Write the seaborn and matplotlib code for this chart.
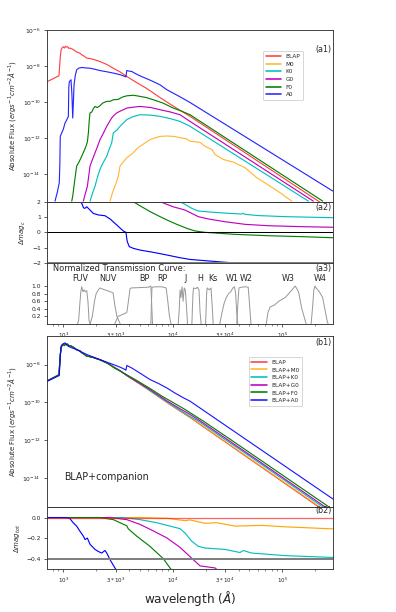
import numpy as np
import matplotlib
matplotlib.use("Agg")
import matplotlib.pyplot as plt
import seaborn as sns
from matplotlib.ticker import FixedLocator, NullFormatter, LogLocator

# ---------------- data (log10 wavelength [A], log10 flux) ----------------
blap_lw = [2.854, 2.96, 2.972, 2.98, 2.99, 3.0, 3.01, 3.02, 3.03, 3.04, 3.05, 3.06, 3.08, 3.10, 3.122,
           3.15, 3.17, 3.19, 3.214, 3.24, 3.27, 3.30, 3.335, 3.40, 3.45, 3.52, 3.58, 3.66, 3.75, 3.82,
           3.884, 3.94, 4.0, 4.08, 4.158, 5.331, 5.47]
blap_lf = [-8.86, -8.54, -7.5, -7.1, -6.98, -6.93, -7.0, -6.90, -6.95, -6.93, -7.02, -7.0, -7.05, -7.12, -7.22,
           -7.28, -7.38, -7.45, -7.56, -7.58, -7.62, -7.68, -7.75, -7.92, -8.10, -8.33, -8.58, -8.88, -9.2, -9.48,
           -9.75, -9.97, -10.2, -10.5, -10.79, -15.49, -16.05]

a0_lw = [2.924, 2.945, 2.963, 2.968, 2.972, 2.985, 3.0, 3.016, 3.03, 3.046, 3.05, 3.055, 3.07, 3.078, 3.086,
         3.092, 3.098, 3.11, 3.122, 3.14, 3.168, 3.2, 3.244, 3.29, 3.335, 3.40, 3.457, 3.52, 3.564, 3.572,
         3.58, 3.6, 3.625, 3.66, 3.70, 3.80, 3.884, 3.945, 4.05, 4.158, 5.4625]
a0_lf = [-15.49, -15.0, -14.47, -13.5, -11.9, -11.71, -11.5, -11.15, -11.0, -10.79, -9.2, -8.86, -8.76, -9.5, -10.88,
         -10.0, -9.04, -8.5, -8.21, -8.12, -8.08, -8.10, -8.12, -8.18, -8.25, -8.32, -8.39, -8.48, -8.58, -8.6,
         -8.25, -8.28, -8.30, -8.42, -8.54, -8.8, -9.04, -9.31, -9.65, -10.02, -14.93]

f0_lw = [3.077, 3.086, 3.105, 3.122, 3.145, 3.168, 3.19, 3.207, 3.22, 3.229, 3.237, 3.244, 3.26, 3.275, 3.29,
         3.31, 3.335, 3.36, 3.397, 3.43, 3.457, 3.50, 3.54, 3.58, 3.64, 3.70, 3.76, 3.823, 3.91, 4.005,
         4.08, 4.158, 5.371]
f0_lf = [-15.49, -15.21, -14.3, -13.55, -13.3, -13.0, -12.7, -12.45, -12.2, -11.71, -11.0, -10.60, -10.55, -10.35, -10.24,
         -10.3, -10.2, -10.05, -9.96, -9.95, -9.87, -9.85, -9.72, -9.65, -9.62, -9.68, -9.75, -9.87, -10.05, -10.33,
         -10.5, -10.70, -15.49]

g0_lw = [3.183, 3.20, 3.22, 3.244, 3.265, 3.29, 3.31, 3.335, 3.36, 3.397, 3.42, 3.442, 3.46, 3.488, 3.52,
         3.55, 3.58, 3.64, 3.70, 3.80, 3.884, 3.98, 4.067, 4.158, 5.285]
g0_lf = [-15.49, -15.1, -14.66, -13.55, -13.2, -12.81, -12.5, -12.08, -11.8, -11.34, -11.1, -10.88, -10.75, -10.60, -10.5,
         -10.42, -10.33, -10.28, -10.24, -10.3, -10.42, -10.55, -10.70, -11.07, -15.49]

k0_lw = [3.244, 3.27, 3.29, 3.31, 3.335, 3.36, 3.397, 3.42, 3.442, 3.457, 3.49, 3.518, 3.55, 3.58, 3.64,
         3.70, 3.80, 3.884, 3.98, 4.067, 4.158, 5.24]
k0_lf = [-15.49, -15.0, -14.66, -14.2, -13.73, -13.4, -13.0, -12.6, -12.26, -11.71, -11.55, -11.34, -11.15, -10.97, -10.8,
         -10.70, -10.72, -10.79, -10.92, -11.07, -11.34, -15.49]

m0_lw = [3.427, 3.45, 3.472, 3.49, 3.503, 3.518, 3.55, 3.58, 3.61, 3.64, 3.67, 3.70, 3.75, 3.792, 3.84,
         3.884, 3.95, 4.005, 4.07, 4.128, 4.158, 4.25, 4.295, 4.359, 4.387, 4.463, 4.554, 4.661, 4.768, 4.89,
         4.98, 5.088]
m0_lf = [-15.49, -15.0, -14.66, -14.35, -14.1, -13.55, -13.3, -13.09, -12.95, -12.81, -12.6, -12.45, -12.25, -12.08, -11.98,
         -11.9, -11.88, -11.9, -11.97, -12.04, -12.17, -12.23, -12.45, -12.63, -12.91, -13.18, -13.33, -13.64, -14.19, -14.66,
         -15.02, -15.49]

# delta mag of companion (panel a2)
dc_a0_lw = [3.153, 3.168, 3.185, 3.198, 3.214, 3.244, 3.274, 3.32, 3.381, 3.427, 3.488, 3.548, 3.573, 3.578,
            3.585, 3.603, 3.64, 3.70, 3.823, 3.945, 4.067, 4.158, 4.417, 4.60, 5.0, 5.4625]
dc_a0 = [2.0, 1.9, 1.6, 1.57, 1.67, 1.46, 1.24, 1.14, 1.09, 0.88, 0.49, 0.10, 0.01, -0.3,
         -0.60, -0.92, -1.03, -1.14, -1.29, -1.46, -1.64, -1.75, -1.90, -2.0, -2.3, -2.6]
dc_f0_lw = [3.64, 3.70, 3.792, 3.884, 3.945, 4.037, 4.128, 4.204, 4.295, 4.569, 4.874, 5.18, 5.4625]
dc_f0 = [2.0, 1.74, 1.36, 1.03, 0.82, 0.53, 0.27, 0.10, 0.01, -0.12, -0.21, -0.27, -0.34]
dc_g0_lw = [3.884, 4.005, 4.112, 4.174, 4.234, 4.325, 4.478, 4.661, 4.874, 5.18, 5.4625]
dc_g0 = [2.0, 1.67, 1.46, 1.24, 1.03, 0.88, 0.70, 0.53, 0.44, 0.38, 0.34]
dc_k0_lw = [4.067, 4.112, 4.174, 4.234, 4.356, 4.478, 4.63, 4.645, 4.66, 4.78, 5.027, 5.4625]
dc_k0 = [2.0, 1.83, 1.57, 1.40, 1.32, 1.26, 1.20, 1.25, 1.18, 1.10, 1.03, 0.96]

# filters (log10 wavelength, normalized transmission)
filter_names = ["FUV", "NUV", "BP", "RP", "J", "H", "Ks", "W1", "W2", "W3", "W4"]
filter_label_lw = [3.153, 3.411, 3.738, 3.909, 4.122, 4.25, 4.371, 4.539, 4.67, 5.057, 5.347]
fuv_lw = [3.13, 3.14, 3.15, 3.16, 3.168, 3.18, 3.19, 3.20, 3.214, 3.225, 3.235, 3.245]
fuv_t = [0.0, 0.1, 0.5, 0.85, 0.98, 0.85, 0.9, 0.85, 0.88, 0.6, 0.1, 0.0]
nuv_lw = [3.245, 3.265, 3.285, 3.30, 3.32, 3.335, 3.36, 3.40, 3.43, 3.455, 3.47, 3.49, 3.52]
nuv_t = [0.0, 0.2, 0.6, 0.8, 0.9, 0.95, 0.92, 0.88, 0.85, 0.82, 0.5, 0.2, 0.0]
bp_lw = [3.47, 3.50, 3.54, 3.58, 3.595, 3.61, 3.62, 3.70, 3.78, 3.80, 3.808, 3.815]
bp_t = [0.0, 0.2, 0.25, 0.3, 0.6, 0.93, 0.95, 0.96, 0.97, 1.0, 0.5, 0.0]
rp_lw = [3.80, 3.805, 3.81, 3.85, 3.90, 3.94, 3.955, 3.97, 3.985]
rp_t = [0.0, 0.5, 0.97, 0.98, 0.98, 0.95, 0.6, 0.2, 0.0]
j_lw = [4.05, 4.06, 4.067, 4.075, 4.085, 4.095, 4.105, 4.115, 4.125, 4.135]
j_t = [0.0, 0.4, 0.9, 0.7, 0.98, 0.6, 0.95, 0.9, 0.5, 0.0]
h_lw = [4.175, 4.185, 4.19, 4.21, 4.225, 4.24, 4.25, 4.26]
h_t = [0.0, 0.8, 0.95, 0.93, 0.97, 0.9, 0.3, 0.0]
ks_lw = [4.30, 4.31, 4.315, 4.335, 4.35, 4.36, 4.37]
ks_t = [0.0, 0.8, 0.95, 0.9, 0.95, 0.5, 0.0]
w1_lw = [4.43, 4.45, 4.47, 4.49, 4.51, 4.53, 4.55, 4.565, 4.575, 4.585, 4.595]
w1_t = [0.0, 0.3, 0.55, 0.7, 0.8, 0.85, 0.95, 0.98, 0.8, 0.3, 0.0]
w2_lw = [4.585, 4.595, 4.605, 4.63, 4.66, 4.69, 4.70, 4.715]
w2_t = [0.0, 0.5, 0.95, 0.97, 0.98, 0.97, 0.6, 0.0]
w3_lw = [4.855, 4.87, 4.89, 4.93, 4.97, 5.0, 5.03, 5.06, 5.09, 5.12, 5.15, 5.18, 5.22]
w3_t = [0.0, 0.3, 0.45, 0.5, 0.6, 0.65, 0.7, 0.8, 0.9, 1.0, 0.85, 0.4, 0.0]
w4_lw = [5.265, 5.28, 5.29, 5.30, 5.31, 5.34, 5.37, 5.39, 5.41, 5.42]
w4_t = [0.0, 0.5, 0.9, 1.0, 0.95, 0.85, 0.7, 0.4, 0.1, 0.0]

# BLAP + companion (panel b1), long-wavelength parts
ba0_lw = [2.854, 2.963, 2.972, 2.979, 2.99, 3.0, 3.016, 3.03, 3.046, 3.077, 3.122, 3.17, 3.214, 3.27, 3.335,
          3.40, 3.457, 3.52, 3.564, 3.572, 3.58, 3.625, 3.70, 3.792, 3.87, 3.945, 4.02, 4.097, 4.158, 5.468]
ba0_lf = [-8.88, -8.58, -7.6, -7.04, -6.95, -6.9, -6.86, -6.95, -7.04, -7.12, -7.21, -7.35, -7.47, -7.6, -7.74,
          -7.88, -8.0, -8.14, -8.26, -8.3, -8.05, -8.18, -8.45, -8.79, -9.0, -9.23, -9.5, -9.75, -9.93, -15.1]
bm0_lw = [3.58, 3.884, 4.0, 4.158, 4.4, 4.86, 5.47]
bm0_lf = [-8.58, -9.75, -10.19, -10.77, -11.74, -13.57, -16.0]
bk0_lw = [3.58, 3.7, 3.884, 4.067, 4.158, 4.234, 4.478, 4.645, 5.027, 5.47]
bk0_lf = [-8.58, -9.01, -9.725, -10.41, -10.73, -10.98, -11.95, -12.6, -14.12, -15.9]
bg0_lw = [3.58, 3.792, 3.945, 4.067, 4.158, 4.25, 4.4, 4.874, 5.47]
bg0_lf = [-8.572, -9.324, -9.908, -10.332, -10.626, -10.969, -11.559, -13.436, -15.812]
bf0_lw = [3.457, 3.58, 3.67, 3.792, 3.914, 3.975, 4.112, 4.295, 4.569, 5.18, 5.454]
bf0_lf = [-8.152, -8.54, -8.836, -9.258, -9.71, -9.907, -10.367, -11.04, -12.112, -14.526, -15.608]

# delta mag total (panel b2)
dt_blap_lw = [2.854, 5.4625]
dt_blap = [0.0, 0.0]
dt_m0_lw = [2.854, 3.70, 3.945, 4.112, 4.158, 4.295, 4.40, 4.569, 4.814, 5.027, 5.4625]
dt_m0 = [0.0, 0.0, -0.007, -0.03, -0.023, -0.056, -0.05, -0.083, -0.076, -0.09, -0.11]
dt_k0_lw = [2.854, 3.548, 3.70, 3.853, 3.975, 4.067, 4.112, 4.174, 4.234, 4.295, 4.478, 4.615, 4.645, 4.72, 5.027, 5.4625]
dt_k0 = [0.0, 0.0, -0.02, -0.05, -0.083, -0.108, -0.15, -0.23, -0.28, -0.296, -0.31, -0.34, -0.32, -0.345, -0.37, -0.388]
dt_g0_lw = [2.854, 3.427, 3.58, 3.70, 3.823, 3.945, 4.067, 4.158, 4.25, 4.387, 4.42]
dt_g0 = [0.0, 0.0, -0.02, -0.066, -0.13, -0.197, -0.29, -0.38, -0.47, -0.49, -0.52]
dt_f0_lw = [2.854, 3.335, 3.457, 3.518, 3.58, 3.594, 3.67, 3.792, 3.914, 3.975, 4.0]
dt_f0 = [0.0, 0.0, -0.02, -0.05, -0.08, -0.11, -0.18, -0.28, -0.40, -0.49, -0.52]
dt_a0_lw = [2.854, 3.03, 3.06, 3.09, 3.122, 3.15, 3.183, 3.198, 3.22, 3.244, 3.29, 3.32, 3.351, 3.381, 3.397, 3.427, 3.472, 3.49]
dt_a0 = [0.0, 0.0, -0.01, -0.05, -0.083, -0.13, -0.18, -0.213, -0.2, -0.26, -0.31, -0.33, -0.345, -0.32, -0.345, -0.41, -0.49, -0.52]

xtick_vals = [1e3, 3e3, 1e4, 3e4, 1e5]
xtick_labels = ["$10^3$", "$3*10^3$", "$10^4$", "$3*10^4$", "$10^5$"]

# ---------------- style ----------------
sns.set_theme(style="ticks", color_codes=False)
plt.rcParams['font.family'] = ['DejaVu Sans']
plt.rcParams.update({
    "axes.edgecolor": "#333333", "axes.linewidth": 0.9,
    "xtick.labelsize": 5.5, "ytick.labelsize": 6,
    "xtick.major.size": 3, "ytick.major.size": 3,
    "xtick.minor.size": 1.8, "xtick.major.width": 0.7, "ytick.major.width": 0.7,
    "xtick.minor.width": 0.5, "axes.labelsize": 7,
    "xtick.color": "#222222", "ytick.color": "#222222",
    "mathtext.fontset": "dejavusans",
})

W, H = 396, 612
fig = plt.figure(figsize=(W / 72, H / 72), dpi=72)
L, Wd = 0.1195, 0.7207
ax1 = fig.add_axes([L, 0.6704, Wd, 0.2806])
ax2 = fig.add_axes([L, 0.5698, Wd, 0.1006], sharex=ax1)
ax3 = fig.add_axes([L, 0.4706, Wd, 0.0992], sharex=ax1)
bx1 = fig.add_axes([L, 0.1711, Wd, 0.2799], sharex=ax1)
bx2 = fig.add_axes([L, 0.0703, Wd, 0.1008], sharex=ax1)

LW = 1.15


def draw(ax, lw, y, color, label=None, alpha=1.0, logy=True, lwid=LW):
    x = np.power(10.0, np.asarray(lw, dtype=float))
    yy = np.power(10.0, np.asarray(y, dtype=float)) if logy else np.asarray(y, dtype=float)
    sns.lineplot(x=x, y=yy, ax=ax, color=color, label=label, alpha=alpha,
                 linewidth=lwid, sort=False, estimator=None)


C_RED, C_OR, C_CY, C_MA, C_GR, C_BL = "#ff0000", "#ffa500", "#00bfbf", "#bf00bf", "#008000", "#0000ff"

# ---- a1 ----
draw(ax1, blap_lw, blap_lf, C_RED, "BLAP", alpha=0.75)
draw(ax1, m0_lw, m0_lf, C_OR, "M0", alpha=0.8)
draw(ax1, k0_lw, k0_lf, C_CY, "K0")
draw(ax1, g0_lw, g0_lf, C_MA, "G0")
draw(ax1, f0_lw, f0_lf, C_GR, "F0")
draw(ax1, a0_lw, a0_lf, C_BL, "A0", alpha=0.85)
ax1.set_xscale("log")
ax1.set_yscale("log")
ax1.set_xlim(714, 2.9e5)
ax1.set_ylim(3e-16, 1e-6)
ax1.set_yticks([1e-6, 1e-8, 1e-10, 1e-12, 1e-14])
ax1.yaxis.set_minor_locator(FixedLocator([]))
ax1.set_ylabel(r"Absolute Flux ($ergs^{-1}cm^{-2}\AA^{-1}$)", fontsize=7)
leg = ax1.legend(loc="upper left", bbox_to_anchor=(0.745, 0.895), fontsize=5.8,
                 handlelength=2.6, borderpad=0.5, labelspacing=0.45, frameon=True)
for h in leg.get_lines():
    h.set_linewidth(1.6)
ax1.text(0.995, 0.888, "(a1)", transform=ax1.transAxes, ha="right", va="center", fontsize=8)

# ---- a2 ----
draw(ax2, dc_k0_lw, dc_k0, C_CY, logy=False)
draw(ax2, dc_g0_lw, dc_g0, C_MA, logy=False)
draw(ax2, dc_f0_lw, dc_f0, C_GR, logy=False)
draw(ax2, dc_a0_lw, dc_a0, C_BL, logy=False)
ax2.axhline(0, color="black", lw=1.0)
ax2.axhline(2, color="grey", lw=2.0)
ax2.axhline(-2, color="grey", lw=2.0)
ax2.set_ylim(-2, 2)
ax2.set_yticks([-2, -1, 0, 1, 2])
ax2.set_ylabel(r"$\Delta mag_c$", fontsize=7, labelpad=4)
ax2.text(0.995, 0.91, "(a2)", transform=ax2.transAxes, ha="right", va="center", fontsize=8)

# ---- a3 ----
for flw, ft in [(fuv_lw, fuv_t), (nuv_lw, nuv_t), (bp_lw, bp_t), (rp_lw, rp_t), (j_lw, j_t),
                (h_lw, h_t), (ks_lw, ks_t), (w1_lw, w1_t), (w2_lw, w2_t), (w3_lw, w3_t), (w4_lw, w4_t)]:
    draw(ax3, flw, ft, "#999999", logy=False, lwid=1.0)
for name, flw in zip(filter_names, filter_label_lw):
    ax3.text(10 ** flw, 1.19, name, ha="center", va="center", fontsize=8)
ax3.set_ylim(0, 1.6)
ax3.set_yticks([0.2, 0.4, 0.6, 0.8, 1.0])
ax3.set_yticklabels(["0.2", "0.4", "0.6", "0.8", "1.0"])
ax3.tick_params(axis="y", labelsize=6)
ax3.text(0.02, 0.915, "Normalized Transmission Curve:", transform=ax3.transAxes,
         ha="left", va="center", fontsize=8.3)
ax3.text(0.995, 0.915, "(a3)", transform=ax3.transAxes, ha="right", va="center", fontsize=8)

# ---- b1 ----
blap_arr_lw = np.asarray(blap_lw)
blap_arr_lf = np.asarray(blap_lf)


def with_blap(lw, lf):
    m = blap_arr_lw < lw[0]
    return np.concatenate([blap_arr_lw[m], lw]), np.concatenate([blap_arr_lf[m], lf])


draw(bx1, blap_lw, blap_lf, C_RED, "BLAP", alpha=0.75)
x_, y_ = with_blap(bm0_lw, bm0_lf)
draw(bx1, x_, y_, C_OR, "BLAP+M0", alpha=0.8)
x_, y_ = with_blap(bk0_lw, bk0_lf)
draw(bx1, x_, y_, C_CY, "BLAP+K0")
x_, y_ = with_blap(bg0_lw, bg0_lf)
draw(bx1, x_, y_, C_MA, "BLAP+G0")
x_, y_ = with_blap(bf0_lw, bf0_lf)
draw(bx1, x_, y_, C_GR, "BLAP+F0")
draw(bx1, ba0_lw, ba0_lf, C_BL, "BLAP+A0", alpha=0.9)
bx1.set_yscale("log")
bx1.set_ylim(3e-16, 3.2e-7)
bx1.set_yticks([1e-8, 1e-10, 1e-12, 1e-14])
bx1.yaxis.set_minor_locator(FixedLocator([]))
bx1.set_ylabel(r"Absolute Flux ($ergs^{-1}cm^{-2}\AA^{-1}$)", fontsize=7)
leg = bx1.legend(loc="upper left", bbox_to_anchor=(0.695, 0.895), fontsize=5.8,
                 handlelength=2.6, borderpad=0.5, labelspacing=0.45, frameon=True)
for h in leg.get_lines():
    h.set_linewidth(1.6)
bx1.text(0.995, 0.962, "(b1)", transform=bx1.transAxes, ha="right", va="center", fontsize=8)
bx1.text(0.059, 0.179, "BLAP+companion", transform=bx1.transAxes, ha="left", va="center", fontsize=9.5)

# ---- b2 ----
draw(bx2, dt_m0_lw, dt_m0, C_OR, logy=False)
draw(bx2, dt_k0_lw, dt_k0, C_CY, logy=False)
draw(bx2, dt_g0_lw, dt_g0, C_MA, logy=False)
draw(bx2, dt_f0_lw, dt_f0, C_GR, logy=False)
draw(bx2, dt_a0_lw, dt_a0, C_BL, logy=False)
draw(bx2, dt_blap_lw, dt_blap, C_RED, alpha=0.6, logy=False, lwid=1.3)
bx2.axhline(0.1, color="grey", lw=2.0)
bx2.axhline(-0.4, color="grey", lw=2.0)
bx2.set_ylim(-0.5, 0.1)
bx2.set_yticks([-0.4, -0.2, 0.0])
bx2.set_yticklabels(["\u22120.4", "\u22120.2", "0.0"])
bx2.set_ylabel(r"$\Delta mag_{tot}$", fontsize=7, labelpad=3)
bx2.text(0.995, 0.945, "(b2)", transform=bx2.transAxes, ha="right", va="center", fontsize=8)
bx2.set_xlabel(r"wavelength ($\AA$)", fontsize=12, labelpad=4)

# x ticks shared
for ax in [ax1, ax2, ax3, bx1, bx2]:
    ax.xaxis.set_major_locator(FixedLocator(xtick_vals))
    ax.xaxis.set_minor_locator(LogLocator(base=10, subs=np.arange(2, 10)))
    ax.xaxis.set_minor_formatter(NullFormatter())
    ax.set_xlim(714, 2.9e5)
for ax in [ax1, ax2, bx1]:
    ax.tick_params(axis="x", labelbottom=False)
for ax in [ax3, bx2]:
    ax.set_xticks(xtick_vals)
    ax.set_xticklabels(xtick_labels)
    ax.tick_params(axis="x", labelbottom=True, labelsize=5.5)
for ax in [ax2, ax3, bx2]:
    lg = ax.get_legend()
    if lg is not None:
        lg.remove()
for ax in [ax1, ax2, ax3, bx1]:
    ax.set_xlabel("")

fig.savefig("out.png", dpi=72)
